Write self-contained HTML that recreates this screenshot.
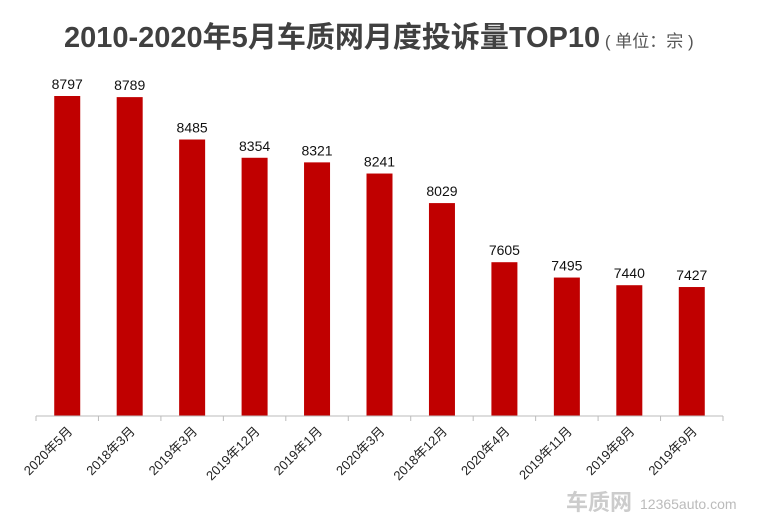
<!DOCTYPE html>
<html><head><meta charset="utf-8"><style>
body{margin:0;background:#fff;width:760px;height:520px;overflow:hidden;font-family:"Liberation Sans","Noto Sans CJK SC",sans-serif}
</style></head><body>
<svg width="760" height="520" id="c">
<text x="64" y="47" font-size="29" font-weight="bold" fill="#404040" font-family="Liberation Sans, Noto Sans CJK SC, sans-serif">2010-2020年5月车质网月度投诉量TOP10<tspan font-size="17" font-weight="normal" fill="#555"> ( 单位：宗 )</tspan></text>
<g id="bars"></g>
<line x1="36" y1="416" x2="723" y2="416" stroke="#bbb" stroke-width="1"/>
<g id="ticks"></g>
<text x="566" y="510" font-size="22" font-weight="bold" fill="#ccc" font-family="Noto Sans CJK SC, sans-serif">车质网</text>
<text x="640" y="509" font-size="14" fill="#bbb">12365auto.com</text>
</svg>
<script>
const categories=["2020年5月","2018年3月","2019年3月","2019年12月","2019年1月","2020年3月","2018年12月","2020年4月","2019年11月","2019年8月","2019年9月"];
const values=[8797,8789,8485,8354,8321,8241,8029,7605,7495,7440,7427];
const yMin=6502, yMax=8797;
const x0=36,x1=723,base=416,yTop=96;
const band=(x1-x0)/categories.length;
const yScale=v=>base-(v-yMin)/(yMax-yMin)*(base-yTop);
const xc=i=>x0+band*(i+0.5);
const ns="http://www.w3.org/2000/svg";
const bars=document.getElementById('bars'),ticks=document.getElementById('ticks');
values.forEach((v,i)=>{
 const r=document.createElementNS(ns,'rect');
 r.setAttribute('x',xc(i)-13);r.setAttribute('width',26);
 r.setAttribute('y',yScale(v));r.setAttribute('height',base-yScale(v));
 r.setAttribute('fill','#c00000');
 
 
 bars.appendChild(r);
 const t=document.createElementNS(ns,'text');
 t.setAttribute('x',xc(i));t.setAttribute('y',yScale(v)-7);
 t.setAttribute('text-anchor','middle');t.setAttribute('font-size','14');t.setAttribute('fill','#111');
 t.textContent=v;
 
 
 bars.appendChild(t);
});
for(let i=0;i<=categories.length;i++){
 const l=document.createElementNS(ns,'line');
 const x=x0+band*i;
 l.setAttribute('x1',x);l.setAttribute('x2',x);l.setAttribute('y1',416);l.setAttribute('y2',421);
 l.setAttribute('stroke','#bbb');
 
 
 ticks.appendChild(l);
}
categories.forEach((c,i)=>{
 const t=document.createElementNS(ns,'text');
 const x=xc(i)+6,yy=432;
 t.setAttribute('x',x);t.setAttribute('y',yy);
 t.setAttribute('text-anchor','end');t.setAttribute('font-size','13');t.setAttribute('fill','#222');
 t.setAttribute('transform','rotate(-45 '+x+' '+yy+')');
 t.textContent=c;
 
 
 ticks.appendChild(t);
});
</script>
</body></html>
